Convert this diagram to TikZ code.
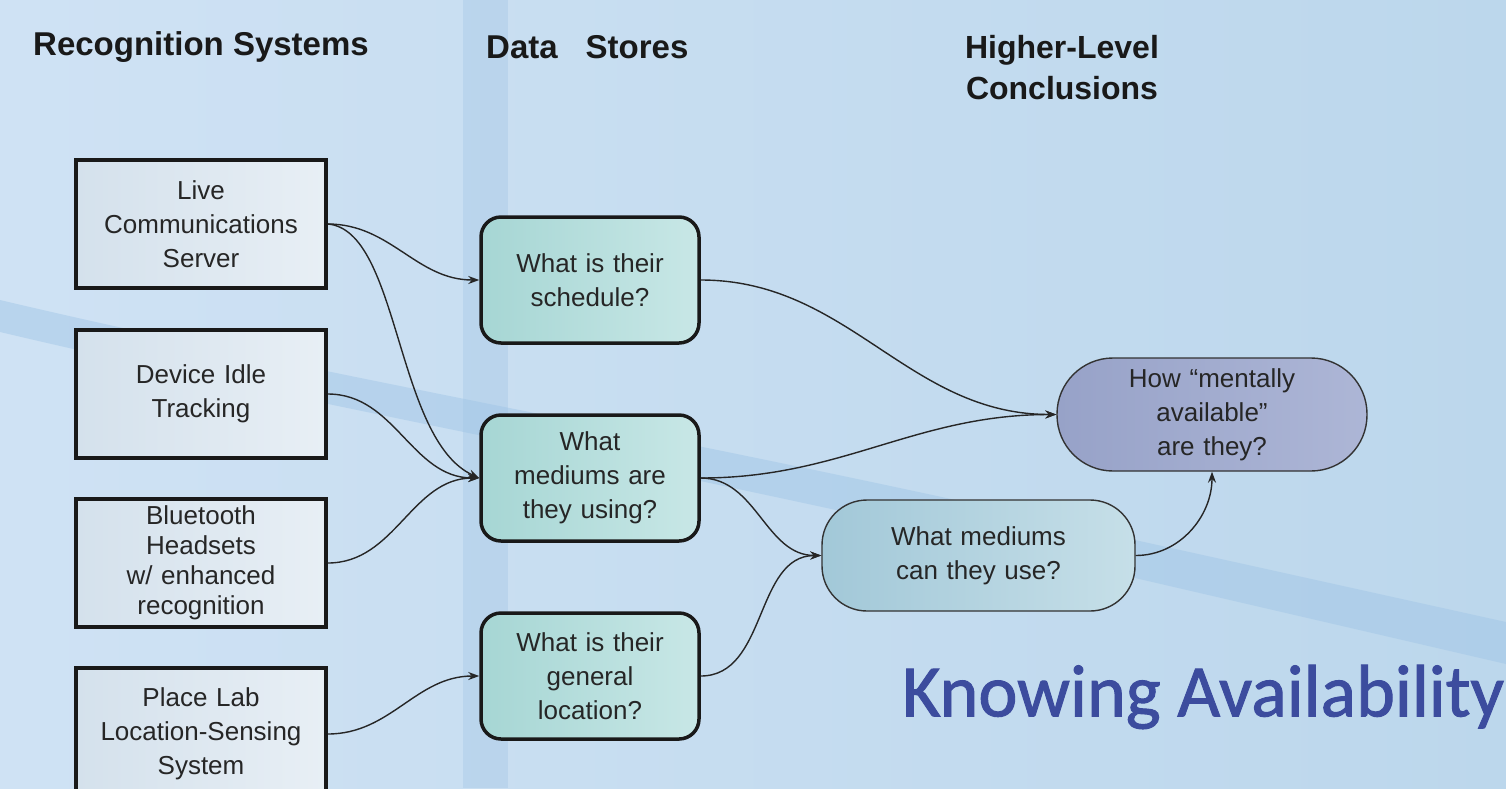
\documentclass[tikz,border=0pt]{standalone}
\usepackage{fontspec}
\setmainfont{Liberation Sans}
\newfontfamily\knowfont[FakeBold=1.3]{Carlito}
\usetikzlibrary{arrows.meta,shapes.misc}
\definecolor{bgA}{HTML}{CFE2F4}
\definecolor{bgB}{HTML}{BCD7EC}
\definecolor{stripe}{HTML}{A9CAE8}
\definecolor{band}{HTML}{9EC4E6}
\definecolor{sysA}{HTML}{D4E1EC}
\definecolor{sysB}{HTML}{E8EFF5}
\definecolor{dsA}{HTML}{A6D6D4}
\definecolor{dsB}{HTML}{C8E7E6}
\definecolor{useA}{HTML}{A2C8D8}
\definecolor{useB}{HTML}{C6DFE8}
\definecolor{menA}{HTML}{97A2C8}
\definecolor{menB}{HTML}{ADB6D6}
\definecolor{knowc}{HTML}{3C4C9E}
\tikzset{
  boxtext/.style={font=\fontsize{26}{34}\selectfont, align=center, text=black!85},
  sysbox/.style={boxtext, draw=black!90, line width=3.5pt, left color=sysA, right color=sysB,
     minimum width=250pt, minimum height=128pt, inner sep=0pt, text width=240pt},
  dsbox/.style={boxtext, draw=black!90, line width=3.5pt, rounded corners=20pt, left color=dsA, right color=dsB,
     minimum width=218pt, minimum height=126pt, inner sep=0pt, text width=210pt},
  usebox/.style={boxtext, draw=black!80, line width=1.4pt, rounded corners=45pt, left color=useA, right color=useB,
     minimum width=313pt, minimum height=111pt, inner sep=0pt, text width=300pt},
  menbox/.style={boxtext, draw=black!80, line width=1.4pt, rounded corners=56pt, left color=menA, right color=menB,
     minimum width=310pt, minimum height=113pt, inner sep=0pt, text width=300pt},
  header/.style={font=\fontsize{33}{41}\bfseries\selectfont, align=center, text=black!90, inner sep=0pt},
  conn/.style={line width=1.4pt, draw=black!85, -{Stealth[length=11pt,width=8pt]}},
}
\begin{document}
\begin{tikzpicture}[x=1pt,y=-1pt]
\clip (0,0) rectangle (1506,788);
% background
\shade[left color=bgA, right color=bgB] (0,0) rectangle (1506,788);
\fill[stripe, opacity=0.45] (463,0) rectangle (508,788);
\fill[band, opacity=0.45] (0,300) .. controls (330,378) and (700,440) .. (1135,540) -- (1506,622)
   -- (1506,664) -- (1135,578) .. controls (700,474) and (330,410) .. (0,332) -- cycle;
% headers
\node[header, anchor=west] (h1) at (33,47) {Recognition Systems};
\node[header, anchor=west] (h2) at (486,47) {Data\hspace{28pt}Stores};
\node[header, font=\fontsize{32}{41}\bfseries\selectfont] (h3) at (1062,68) {Higher-Level\\Conclusions};
% recognition systems
\node[sysbox] (lcs) at (201,224) {Live\\Communications\\Server};
\node[sysbox] (dit) at (201,394) {Device Idle\\Tracking};
\node[sysbox, font=\fontsize{26}{30}\selectfont] (bt) at (201,563) {Bluetooth\\Headsets\\w/ enhanced\\recognition};
\node[sysbox, minimum height=132pt] (pl) at (201,734) {Place Lab\\Location-Sensing\\System};
% data stores
\node[dsbox] (sch) at (590,280) {What is their\\schedule?};
\node[dsbox] (med) at (590,478) {What\\mediums are\\they using?};
\node[dsbox] (loc) at (590,676) {What is their\\general\\location?};
% conclusions
\node[usebox] (use) at (978.5,555.5) {What mediums\\can they use?};
\node[menbox] (men) at (1212,414.5) {How \textquotedblleft mentally\\available\textquotedblright\\are they?};
% title
\node[font=\knowfont\fontsize{74}{80}\selectfont, text=knowc, anchor=west, inner sep=0pt] (title) at (902,697) {Knowing Availability};
% connectors
\draw[conn] (lcs.east) to[out=0,in=180] (sch.west);
\draw[conn] (lcs.east) .. controls (400,230) and (395,440) .. (med.west);
\draw[conn] (dit.east) to[out=0,in=180] (med.west);
\draw[conn] (bt.east) to[out=0,in=180] (med.west);
\draw[conn] (pl.east) to[out=0,in=180] (loc.west);
\draw[conn] (sch.east) to[out=0,in=180] (men.west);
\draw[conn] (med.east) to[out=0,in=180] (men.west);
\draw[conn] (med.east) to[out=0,in=180] (use.west);
\draw[conn] (loc.east) to[out=0,in=180] (use.west);
\draw[conn] (use.east) to[out=0,in=-90] (men.south);
\end{tikzpicture}
\end{document}
